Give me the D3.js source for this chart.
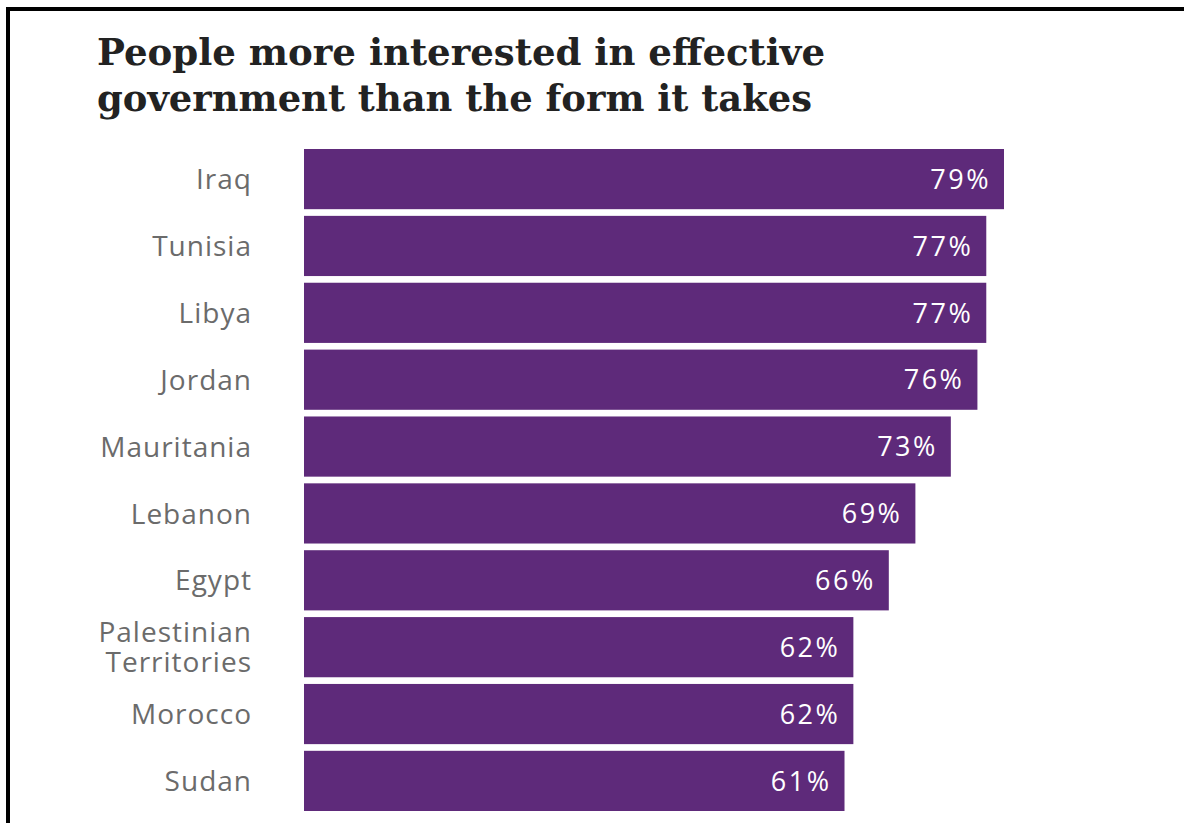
<!DOCTYPE html>
<html>
<head>
<meta charset="utf-8">
<script src="https://cdn.jsdelivr.net/npm/d3@7"></script>
<style>
  body { margin: 0; background: #fff; }
  svg { display: block; }
</style>
</head>
<body>
<div id="chart"></div>
<script>
var countries = ['Iraq', 'Tunisia', 'Libya', 'Jordan', 'Mauritania', 'Lebanon',
    'Egypt', 'Palestinian Territories', 'Morocco', 'Sudan'];
var shares = [79, 77, 77, 76, 73, 69, 66, 62, 62, 61];
var titleLines = ['People more interested in effective', 'government than the form it takes'];

var width = 1184, height = 823;
var svg = d3.select('#chart').append('svg')
    .attr('width', width)
    .attr('height', height);

// frame (only top and left edges fall inside the picture)
svg.append('rect')
    .attr('x', 8).attr('y', 9)
    .attr('width', width + 20).attr('height', height + 20)
    .attr('fill', 'none')
    .attr('stroke', '#000')
    .attr('stroke-width', 4);

svg.append('text')
    .attr('x', 97)
    .attr('y', 65)
    .style('font-family', '"DejaVu Serif", serif')
    .style('font-weight', 'bold')
    .style('font-size', '37px')
    .attr('fill', '#222')
    .selectAll('tspan')
    .data(titleLines)
    .join('tspan')
        .attr('x', 97)
        .attr('dy', (d, i) => i ? 46 : 0)
        .attr('textLength', (d, i) => i ? 715 : 728)
        .attr('lengthAdjust', 'spacingAndGlyphs')
        .text(d => d);

var x = d3.scaleLinear().domain([0, 79]).range([304, 1004]);
var y = d3.scaleBand().domain(countries).range([149, 811]).paddingInner(0.1).paddingOuter(0);

var data = countries.map((c, i) => ({name: c, value: shares[i]}));

svg.selectAll('.bar')
    .data(data)
    .join('rect')
    .attr('class', 'bar')
    .attr('x', x(0))
    .attr('y', d => y(d.name))
    .attr('width', d => x(d.value) - x(0))
    .attr('height', y.bandwidth())
    .attr('fill', '#5e2a7a');

svg.selectAll('.value')
    .data(data)
    .join('text')
    .attr('class', 'value')
    .attr('x', d => x(d.value) - 13)
    .attr('y', d => y(d.name) + y.bandwidth() / 2)
    .attr('dy', '0.36em')
    .attr('text-anchor', 'end')
    .attr('fill', '#fff')
    .style('font-family', '"Open Sans", sans-serif')
    .style('font-size', '27px')
    .style('letter-spacing', '2.5px')
    .text(d => d.value + '%');

// category labels, wrapped when too wide
var labels = svg.selectAll('.label')
    .data(data)
    .join('text')
    .attr('class', 'label')
    .attr('text-anchor', 'end')
    .attr('fill', '#6b6b6b')
    .style('font-family', '"Open Sans", sans-serif')
    .style('font-size', '28px')
    .style('letter-spacing', '1px');

labels.each(function(d) {
    var t = d3.select(this);
    var words = d.name.split(' ');
    var lines = [];
    var cur = [];
    words.forEach(w => {
        var test = cur.concat(w).join(' ');
        t.text(test);
        if (cur.length && this.getComputedTextLength() > 170) {
            lines.push(cur.join(' '));
            cur = [w];
        } else {
            cur.push(w);
        }
    });
    lines.push(cur.join(' '));
    t.text(null);
    var lh = 30;
    var cy = y(d.name) + y.bandwidth() / 2 - (lines.length - 1) * lh / 2;
    lines.forEach((l, i) => {
        t.append('tspan')
            .attr('x', 252)
            .attr('y', cy + i * lh)
            .attr('dy', '0.36em')
            .text(l);
    });
});
</script>
</body>
</html>
